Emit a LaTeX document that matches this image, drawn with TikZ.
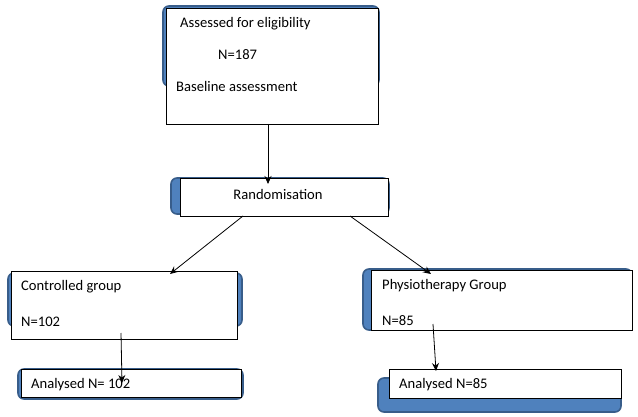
\documentclass[tikz,border=0pt]{standalone}
\usepackage{fontspec}
\setmainfont{Carlito}
\usetikzlibrary{arrows.meta,calc}
\definecolor{shblue}{HTML}{4F81BD}
\definecolor{shedge}{HTML}{385D8A}
\tikzset{
  box/.style={draw=black, fill=white, line width=0.8pt, inner sep=0pt},
  shadowbox/.style={fill=shblue, draw=shedge, line width=1.6pt, rounded corners=6pt},
  lbl/.style={anchor=west, inner sep=0pt, yshift=-1.5pt, font=\fontsize{14.6}{16}\selectfont},
  arr/.style={draw=black, line width=0.8pt, -{Stealth[length=8pt,width=7pt]}}
}
\begin{document}
\begin{tikzpicture}[x=1pt,y=-1pt]
\useasboundingbox (0,0) rectangle (638,417);
% shadows
\draw[shadowbox] (163,6) rectangle (379,86);
\draw[shadowbox] (171,178) rectangle (389,214);
\draw[shadowbox] (8,273) rectangle (242,326);
\draw[shadowbox] (18,369) rectangle (243,399);
\draw[shadowbox] (363,269) rectangle (632,330);
\draw[shadowbox] (378,378) rectangle (621,412);
% boxes
\node[box, minimum width=212pt, minimum height=116pt, anchor=north west] (elig) at (166,8) {};
\node[box, minimum width=208pt, minimum height=38pt, anchor=north west] (rand) at (180,178) {};
\node[box, minimum width=226pt, minimum height=68pt, anchor=north west] (ctrl) at (11,271) {};
\node[box, minimum width=220pt, minimum height=28pt, anchor=north west] (anc) at (21,369) {};
\node[box, minimum width=261pt, minimum height=60pt, anchor=north west] (phys) at (371,270) {};
\node[box, minimum width=232pt, minimum height=29pt, anchor=north west] (anp) at (389,369) {};
% texts
\node[lbl] (t1) at (180,22) {Assessed for eligibility};
\node[lbl] (t2) at (218,53) {N=187};
\node[lbl] (t3) at (176,85) {Baseline assessment};
\node[lbl, anchor=center] (t4) at (278,193) {Randomisation};
\node[lbl] (t5) at (21,285) {Controlled group};
\node[lbl] (t6) at (21,320) {N=102};
\node[lbl] (t7) at (31,383) {Analysed N= 102};
\node[lbl] (t8) at (382,284) {Physiotherapy Group};
\node[lbl] (t9) at (382,319) {N=85};
\node[lbl] (t10) at (399,383) {Analysed N=85};
% connector points
\coordinate (a1) at (268,124);
\coordinate (a2) at (268,184);
\coordinate (b1) at (243,216);
\coordinate (b2) at (170,274);
\coordinate (c1) at (350,216);
\coordinate (c2) at (431,274);
\coordinate (d1) at (121,333);
\coordinate (d2) at (122,383);
\coordinate (e1) at (433,324);
\coordinate (e2) at (436,371);
\draw[arr] (a1) -- (a2);
\draw[arr] (b1) -- (b2);
\draw[arr] (c1) -- (c2);
\draw[arr] (d1) -- (d2);
\draw[arr] (e1) -- (e2);
\end{tikzpicture}
\end{document}
